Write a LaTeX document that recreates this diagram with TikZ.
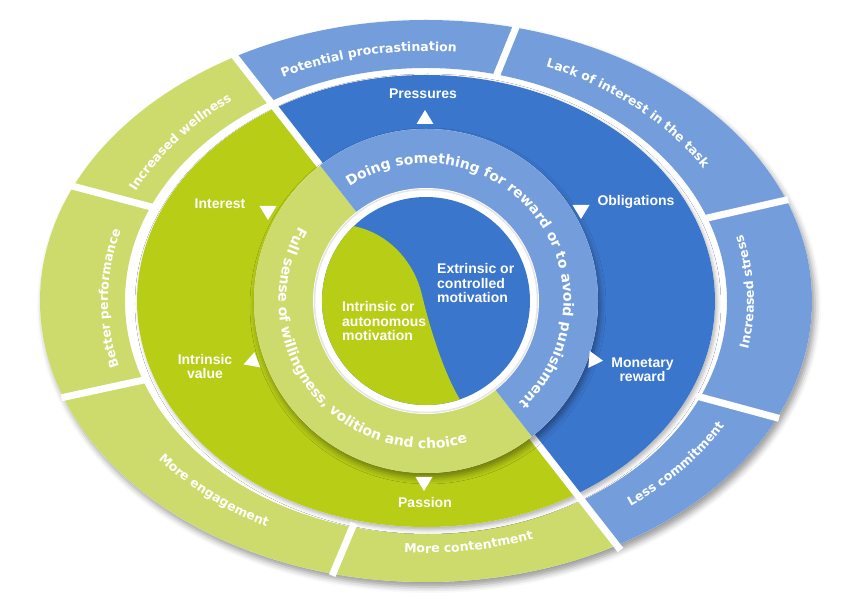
\documentclass[tikz,border=0pt]{standalone}
\usepackage{fontspec}
\usetikzlibrary{decorations.text,shadows.blur}
\newfontfamily\rf{DejaVu Sans}
\newfontfamily\lf{Liberation Sans}
\definecolor{dgreen}{RGB}{183,205,22}
\definecolor{lgreen}{RGB}{204,219,108}
\definecolor{dblue}{RGB}{59,118,205}
\definecolor{lblue}{RGB}{115,158,219}
\newcommand\outerfont{\rf\bfseries\fontsize{12.5}{14}\selectfont\color{white}}
\newcommand\midfont{\rf\bfseries\fontsize{14}{16}\selectfont\color{white}}
\tikzset{
  lab/.style={text=white, font=\lf\bfseries\fontsize{14}{14}\selectfont, align=center, inner sep=0pt},
  clab/.style={text=white, font=\lf\bfseries\fontsize{14}{14.5}\selectfont, align=left, inner sep=0pt, anchor=west},
  tri/.pic={\fill[white] (-8.5,-6) -- (8.5,-6) -- (0,8) -- cycle;},
  gapline/.style={white, line width=7pt},
  ringtext/.style={decorate, decoration={text along path, text align=center, text={|\outerfont|#1}}},
  midtext/.style={decorate, decoration={text along path, text align=center, text={|\midfont|#1}}},
}
% #1 centre angle, #2 x radius, #3 y radius, #4 text
% clockwise text (tops outward)
\newcommand\cwtext[4]{\path[ringtext={#4}] (#1+30:#2 and #3) arc[start angle=#1+30, end angle=#1-30, x radius=#2, y radius=#3];}
% counter-clockwise text (tops inward)
\newcommand\ccwtext[4]{\path[ringtext={#4}] (#1-30:#2 and #3) arc[start angle=#1-30, end angle=#1+30, x radius=#2, y radius=#3];}
\begin{document}
\begin{tikzpicture}[x=1pt,y=1pt]
\useasboundingbox (-426,-300) rectangle (424,301);
% ---------- outer ring ----------
\fill[white, blur shadow={shadow xshift=3pt, shadow yshift=-5pt, shadow blur radius=6pt, shadow opacity=40}] (0,0) ellipse [x radius=386, y radius=281];
\begin{scope}
  \clip (128:900) -- (218:900) -- (308:900) -- cycle;
  \fill[lgreen, even odd rule] (0,0) ellipse [x radius=386, y radius=281] (0,0) ellipse [x radius=301, y radius=233];
\end{scope}
\begin{scope}
  \clip (128:900) -- (38:900) -- (308:900) -- cycle;
  \fill[lblue, even odd rule] (0,0) ellipse [x radius=386, y radius=281] (0,0) ellipse [x radius=301, y radius=233];
\end{scope}
% ---------- dark region ----------
\fill[white, blur shadow={shadow xshift=2pt, shadow yshift=-3pt, shadow blur radius=4pt, shadow opacity=30}] (0,0) ellipse [x radius=289, y radius=226];
\begin{scope}
  \clip (128:900) -- (218:900) -- (308:900) -- cycle;
  \fill[dgreen] (0,0) ellipse [x radius=289, y radius=226];
\end{scope}
\begin{scope}
  \clip (128:900) -- (38:900) -- (308:900) -- cycle;
  \fill[dblue] (0,0) ellipse [x radius=289, y radius=226];
\end{scope}
% ---------- gaps ----------
\foreach \gt in {76.5,21,-24.5,-104,200,156}
  \draw[gapline] (\gt:297 and 229) -- (\gt:388 and 283);
\draw[gapline] (128:316) -- (308:316);
% ---------- outer ring texts ----------
\cwtext{101}{318}{250}{Potential procrastination}
\cwtext{49}{326}{252}{Lack of interest in the task}
\cwtext{179.5}{318}{250}{Better performance}
\cwtext{142}{322}{251}{Increased wellness}
\ccwtext{2}{328}{252}{Increased stress}
\ccwtext{-39.5}{342}{256}{Less commitment}
\ccwtext{-82}{328}{252}{More contentment}
\ccwtext{-131.5}{340}{256}{More engagement}
% ---------- middle ring ----------
\fill[white, blur shadow={shadow xshift=2pt, shadow yshift=-5pt, shadow blur radius=6pt, shadow opacity=40}] (0,0) circle [radius=172];
\begin{scope}
  \clip (128:900) -- (218:900) -- (308:900) -- cycle;
  \fill[lgreen] (0,0) circle [radius=172];
\end{scope}
\begin{scope}
  \clip (128:900) -- (38:900) -- (308:900) -- cycle;
  \fill[lblue] (0,0) circle [radius=172];
\end{scope}
\path[midtext={Doing something for reward or to avoid punishment}] (133:137.5) arc[start angle=133, end angle=-57, radius=137.5];
\path[midtext={Full sense of willingness, volition and choice}] (138:147.5) arc[start angle=138, end angle=298, radius=147.5];
% ---------- inner disk ----------
\fill[white] (0,0) circle [radius=113];
\draw[gray!20, line width=1.5pt] (0,0) circle [radius=111.5];
\fill[dblue] (0,0) circle [radius=104];
\fill[dgreen] (134:104) .. controls (-38,68) and (-12,40) .. (-4,6) .. controls (4,-28) and (18,-72) .. (-71:104) arc[start angle=-71, end angle=-226, radius=104] -- cycle;
\node[clab] (ext) at (11,18) {Extrinsic or\\controlled\\motivation};
\node[clab] (intr) at (-84,-20) {Intrinsic or\\autonomous\\motivation};
% ---------- labels and triangles ----------
\node[lab] (pres) at (-3,207) {Pressures};
\pic[rotate=0] at (-1,183) {tri};
\node[lab] (obl) at (210,99) {Obligations};
\pic[rotate=180] at (155,90) {tri};
\node[lab] (mon) at (216.5,-69) {Monetary\\reward};
\pic[rotate=-95] at (169,-59) {tri};
\node[lab] (pas) at (-1,-201) {Passion};
\pic[rotate=180] at (-2,-182) {tri};
\node[lab] (intst) at (-206,97) {Interest};
\pic[rotate=180] at (-158,89) {tri};
\node[lab] (iv) at (-221,-65.5) {Intrinsic\\value};
\pic[rotate=-10] at (-173,-59) {tri};
\end{tikzpicture}
\end{document}
